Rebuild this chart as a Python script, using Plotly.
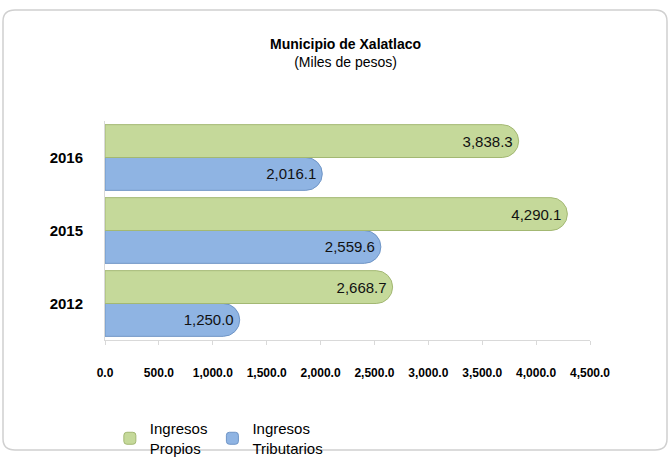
import plotly.graph_objects as go

# Data (miles de pesos)
years = ["2012", "2015", "2016"]
ingresos_propios = [2668.7, 4290.1, 3838.3]
ingresos_tributarios = [1250.0, 2559.6, 2016.1]
x_ticks = [0, 500, 1000, 1500, 2000, 2500, 3000, 3500, 4000, 4500]

GREEN = "#c5d99a"
BLUE = "#8fb4e3"
LABEL_FONT = dict(size=15, color="#111111", family="Liberation Sans, Arial")

W, H = 671, 476
ML, MR, MT, MB = 105, 81, 121, 122
PW, PH = W - ML - MR, H - MT - MB


def rounded_border(left, right, top, bottom, r=12):
    # outer frame in pixel coords -> paper coords
    x0, x1 = (left - ML) / PW, (right - ML) / PW
    y0, y1 = (H - MB - bottom) / PH, (H - MB - top) / PH
    rx, ry = r / PW, r / PH
    return (f"M {x0+rx},{y1} L {x1-rx},{y1} Q {x1},{y1} {x1},{y1-ry} "
            f"L {x1},{y0+ry} Q {x1},{y0} {x1-rx},{y0} L {x0+rx},{y0} "
            f"Q {x0},{y0} {x0},{y0+ry} L {x0},{y1-ry} Q {x0},{y1} {x0+rx},{y1} Z")


fig = go.Figure()

# blue first so it sits below the green bar in each group
fig.add_trace(go.Bar(
    y=years, x=ingresos_tributarios, orientation="h",
    name="Ingresos<br>Tributarios", legendrank=2,
    marker=dict(color=BLUE, line=dict(color="#6f95c6", width=1), cornerradius="50%"),
    texttemplate="%{x:,.1f}", textposition="inside", insidetextanchor="end",
    textfont=LABEL_FONT,
))
fig.add_trace(go.Bar(
    y=years, x=ingresos_propios, orientation="h",
    name="Ingresos<br>Propios", legendrank=1,
    marker=dict(color=GREEN, line=dict(color="#a3b873", width=1), cornerradius="50%"),
    texttemplate="%{x:,.1f}", textposition="inside", insidetextanchor="end",
    textfont=LABEL_FONT,
))

fig.update_layout(
    width=W, height=H, autosize=False,
    paper_bgcolor="white", plot_bgcolor="white",
    margin=dict(l=ML, r=MR, t=MT, b=MB),
    barmode="group", bargap=0.1, bargroupgap=0.0,
    font=dict(family="Liberation Sans, Arial", color="#000000"),
    title=dict(
        text="<b>Municipio de Xalatlaco</b><br>(Miles de pesos)",
        x=0.515, xanchor="center", y=0.898, yanchor="middle",
        font=dict(size=14, color="#000000"),
    ),
    xaxis=dict(
        range=[0, 4500], tickvals=x_ticks, tickformat=",.1f",
        showgrid=False, zeroline=False,
        showline=True, linecolor="#d9d9d9", linewidth=1,
        ticks="outside", tickcolor="#d9d9d9", ticklen=4, ticklabelstandoff=18,
        tickfont=dict(size=12, color="#000000", family="Liberation Sans, Arial", weight="bold"),
    ),
    yaxis=dict(
        showgrid=False, zeroline=False,
        showline=True, linecolor="#d9d9d9", linewidth=1,
        ticks="", ticklabelstandoff=18,
        tickfont=dict(size=15, color="#000000", family="Liberation Sans, Arial", weight="bold"),
    ),
    legend=dict(
        orientation="h", x=0.01, xanchor="left", y=-0.33, yanchor="top",
        font=dict(size=15, color="#000000"), bgcolor="rgba(0,0,0,0)",
        itemwidth=30, traceorder="normal",
    ),
    shapes=[dict(
        type="path", xref="paper", yref="paper",
        path=rounded_border(3, 667, 3, 471),
        line=dict(color="#d0d0d0", width=1.5),
    )],
)

fig.write_html(
    "out.html",
    config={"displayModeBar": False, "responsive": False},
    post_script="document.body.style.margin='0';document.body.style.overflow='hidden';",
)
